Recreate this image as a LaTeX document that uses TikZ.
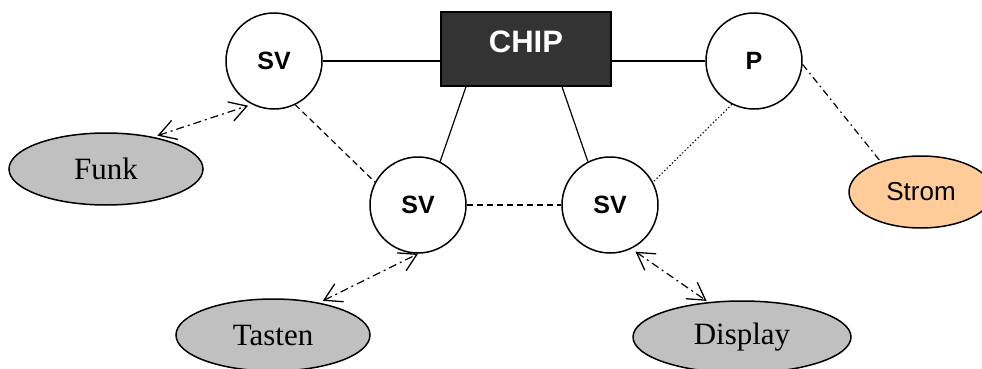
\documentclass[tikz,border=0pt]{standalone}
\usepackage{fontspec}
\setmainfont{Liberation Serif}
\newfontfamily\arialfont{Liberation Sans}
\usetikzlibrary{shapes.geometric,arrows.meta}
\definecolor{chipfill}{HTML}{333333}
\definecolor{ellgray}{HTML}{C0C0C0}
\definecolor{peach}{HTML}{FFCC99}
\tikzset{
  svnode/.style={circle,draw,line width=1.5pt,fill=white,minimum size=96pt,inner sep=0pt,
    font=\arialfont\bfseries\fontsize{25}{25}\selectfont},
  chipbox/.style={rectangle,draw,line width=1.5pt,fill=chipfill,minimum width=170pt,minimum height=74pt,inner sep=0pt},
  chiptext/.style={text=white,font=\arialfont\bfseries\fontsize{31}{31}\selectfont,inner sep=0pt},
  grayell/.style={ellipse,draw,line width=1.5pt,fill=ellgray,inner sep=0pt,
    font=\fontsize{31}{31}\selectfont},
  peachell/.style={ellipse,draw,line width=1.5pt,fill=peach,inner sep=0pt,minimum width=144pt,minimum height=72pt,
    font=\arialfont\fontsize{26}{26}\selectfont},
  solidcon/.style={line width=1.2pt},
  dashcon/.style={line width=1.2pt,dash pattern=on 6pt off 4pt},
  dotcon/.style={line width=1.2pt,dash pattern=on 1.2pt off 2.4pt},
  dashdotcon/.style={line width=1.2pt,dash pattern=on 7pt off 4pt on 1.5pt off 4pt},
  arrowcon/.style={line width=1.2pt,dash pattern=on 8pt off 4pt on 2pt off 4pt,
    {Straight Barb[length=17pt,width=20pt,line width=1.3pt]}-{Straight Barb[length=17pt,width=20pt,line width=1.3pt]}},
}
\begin{document}
\begin{tikzpicture}[x=1pt,y=-1pt]
\useasboundingbox (0,0) rectangle (982,369);
% nodes
\node[chipbox] (chip) at (526,49) {};
\node[chiptext] (chiplabel) at (526,42) {CHIP};
\node[svnode] (sv1) at (274,61) {SV};
\node[svnode] (p) at (754,61) {P};
\node[svnode] (sv3) at (418,205) {SV};
\node[svnode] (sv4) at (610,205) {SV};
\node[grayell,minimum width=194pt,minimum height=72pt] (funk) at (106,169) {Funk};
\node[grayell,minimum width=194pt,minimum height=72pt] (tasten) at (273,335) {Tasten};
\node[grayell,minimum width=218pt,minimum height=72pt] (display) at (742,337) {Display};
\node[peachell] (strom) at (921,192) {Strom};
% connectors
\draw[solidcon] (sv1.east) -- (sv1.east -| chip.west);
\draw[solidcon] (p.west) -- (p.west -| chip.east);
\draw[solidcon] ([xshift=-60pt]chip.south) -- (sv3.63);
\draw[solidcon] ([xshift=36pt]chip.south) -- (sv4.117);
\draw[dashcon] (sv1.-64) -- (sv3.152);
\draw[dashcon] (sv3.east) -- (sv4.west);
\draw[dotcon] (p.-117) -- (sv4.28);
\draw[dashdotcon] (p.-4) -- (strom.143);
\draw[arrowcon,shorten <=4pt,shorten >=4pt] (funk.34) -- (sv1.243);
\draw[arrowcon,shorten <=4pt] (tasten.35) -- (sv3.270);
\draw[arrowcon,shorten <=5pt,shorten >=2pt] (sv4.296) -- (display.134);
\end{tikzpicture}
\end{document}
